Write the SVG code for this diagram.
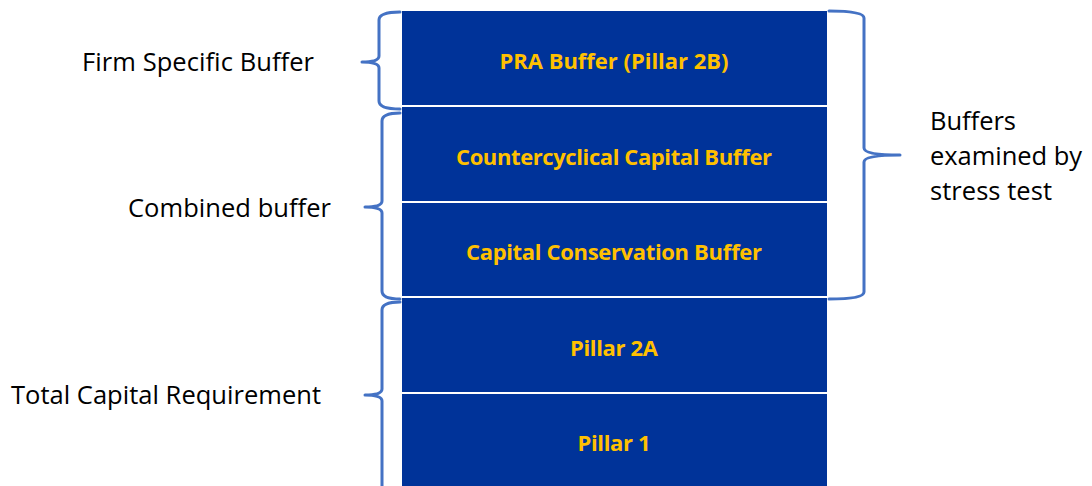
<svg xmlns="http://www.w3.org/2000/svg" width="1092" height="486" viewBox="0 0 1092 486">
  <style>
    .layer { fill: #003399; stroke: #ffffff; stroke-width: 2; }
    .layer-label { font-family: "Open Sans", "Liberation Sans", sans-serif; font-weight: bold; font-size: 22px; fill: #FFC000; text-anchor: middle; }
    .side-label { font-family: "Open Sans", "Liberation Sans", sans-serif; font-size: 25.5px; fill: #000000; }
    .brace { fill: none; stroke: #4472C4; stroke-width: 3; stroke-linejoin: round; stroke-linecap: round; }
  </style>
  <rect width="1092" height="486" fill="#ffffff"/>

  <!-- capital stack, top to bottom -->
  <g id="pra-buffer">
    <rect class="layer" x="401" y="10" width="427" height="96"/>
    <text class="layer-label" x="614" y="69" textLength="229">PRA Buffer (Pillar 2B)</text>
  </g>
  <g id="countercyclical-buffer">
    <rect class="layer" x="401" y="106" width="427" height="96"/>
    <text class="layer-label" x="614" y="165" textLength="316">Countercyclical Capital Buffer</text>
  </g>
  <g id="conservation-buffer">
    <rect class="layer" x="401" y="202" width="427" height="95"/>
    <text class="layer-label" x="614" y="260" textLength="296">Capital Conservation Buffer</text>
  </g>
  <g id="pillar-2a">
    <rect class="layer" x="401" y="297" width="427" height="96"/>
    <text class="layer-label" x="614" y="356" textLength="88">Pillar 2A</text>
  </g>
  <g id="pillar-1">
    <rect class="layer" x="401" y="393" width="427" height="100"/>
    <text class="layer-label" x="614" y="451" textLength="73">Pillar 1</text>
  </g>

  <!-- grouping braces -->
  <g id="connectors">
    <path class="brace" d="M400,12 Q379,12 379,20 L379,56 Q379,62 362,62 Q379,62 379,68 L379,101 Q379,109 400,109"/>
    <path class="brace" d="M400,113 Q382,113 382,121 L382,201 Q382,207 365,207 Q382,207 382,213 L382,291 Q382,299 400,299"/>
    <path class="brace" d="M400,302 Q382,302 382,310 L382,389 Q382,395 365,395 Q382,395 382,401 L382,490"/>
    <path class="brace" d="M829,11 Q864,11 864,18 L864,148 Q864,155 900,155 Q864,155 864,162 L864,292 Q864,299 829,299"/>
  </g>

  <g id="label-firm-specific">
    <text class="side-label" x="82" y="71" textLength="232">Firm Specific Buffer</text>
  </g>
  <g id="label-combined">
    <text class="side-label" x="128" y="217" textLength="203">Combined buffer</text>
  </g>
  <g id="label-tcr">
    <text class="side-label" x="11" y="404" textLength="310">Total Capital Requirement</text>
  </g>
  <g id="label-stress-test">
    <text class="side-label" x="930" y="130" textLength="86">Buffers</text>
    <text class="side-label" x="930" y="165" textLength="152">examined by</text>
    <text class="side-label" x="930" y="200" textLength="122">stress test</text>
  </g>
</svg>
